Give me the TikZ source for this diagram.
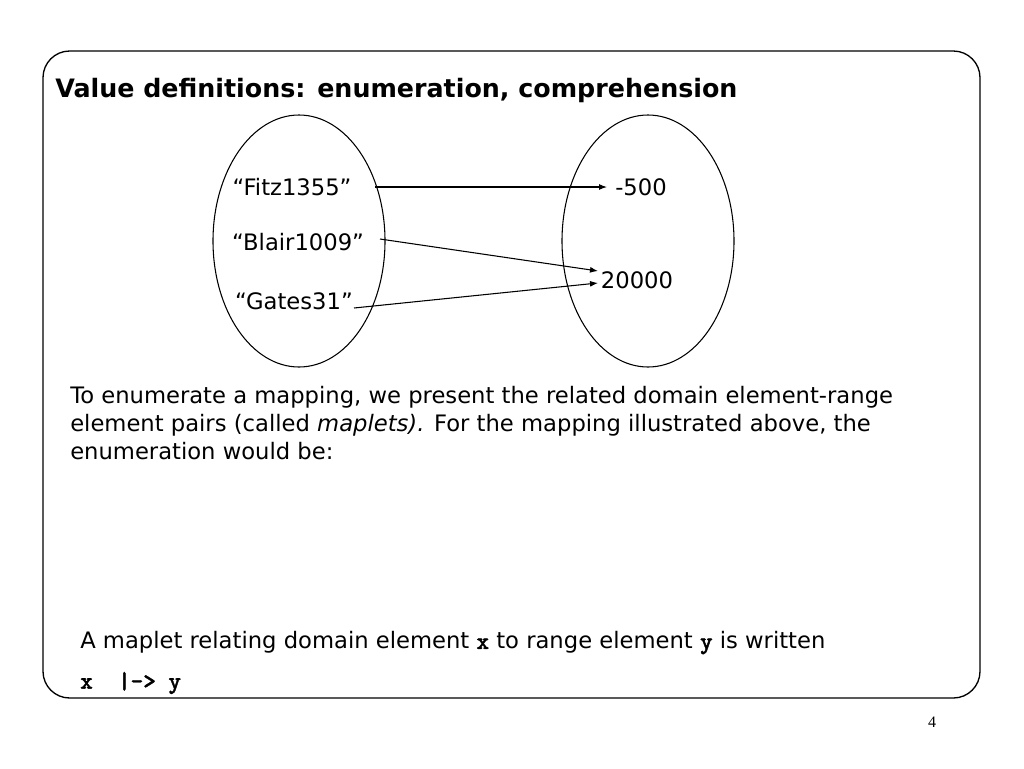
\documentclass[tikz,border=0pt]{standalone}
\usepackage{fontspec}
\setmainfont{DejaVu Sans}
\newfontfamily\numfont{Liberation Serif}
\newfontfamily\codefont{lmmonolt10-bold}[Extension=.otf, FakeBold=1.5]
\usetikzlibrary{arrows.meta}
\begin{document}
\begin{tikzpicture}[x=0.75pt,y=-0.75pt,
  lbl/.style={font=\fontsize{17}{20}\selectfont, inner sep=0pt},
  mapto/.style={-{Latex[length=6pt,width=4.5pt]}, line width=0.8pt},
  body/.style={font=\fontsize{17}{21}\selectfont, inner sep=0pt, anchor=north west, align=left}]
\useasboundingbox (0,0) rectangle (1024,768);
\draw[line width=1pt, rounded corners=20pt] (43,51) rectangle (980,698);
\node[anchor=west, inner sep=0pt, font=\fontsize{19}{22}\bfseries] (title) at (55,91) {Value definitions: enumeration, comprehension};
% ellipses
\draw[line width=0.8pt] (299,241) ellipse [x radius=86, y radius=126];
\draw[line width=0.8pt] (648,241) ellipse [x radius=86, y radius=126];
\node[lbl] (fitz) at (292,187) {“Fitz1355”};
\node[lbl] (blair) at (298,242) {“Blair1009”};
\node[lbl] (gates) at (294,301) {“Gates31”};
\node[lbl] (m500) at (641,187) {-500};
\node[lbl] (v2) at (637,280) {20000};
\coordinate (f0) at (375,187);
\coordinate (f1) at (607,187);
\coordinate (b0) at (380,239);
\coordinate (b1) at (598,271);
\coordinate (g0) at (354,308);
\coordinate (g1) at (598,283);
\draw[mapto] (f0) -- (f1);
\draw[mapto] (b0) -- (b1);
\draw[mapto] (g0) -- (g1);
\node[body] (para) at (70,386) {To enumerate a mapping, we present the related domain element-range\\element pairs (called \textit{maplets).} For the mapping illustrated above, the\\enumeration would be:};
\node[anchor=west, inner sep=0pt, font=\fontsize{17}{18}\selectfont] (maplet) at (80,643) {A maplet relating domain element {\codefont\fontsize{18}{18}\selectfont x} to range element {\codefont\fontsize{18}{18}\selectfont y} is written};
\node[anchor=west, inner sep=0pt, font=\codefont\fontsize{18}{18}\selectfont] (code) at (80,683) {x\ \ |->\ y};
\node[inner sep=0pt, font=\numfont\fontsize{12}{14}\selectfont] (pg) at (932,722) {4};
\end{tikzpicture}
\end{document}
